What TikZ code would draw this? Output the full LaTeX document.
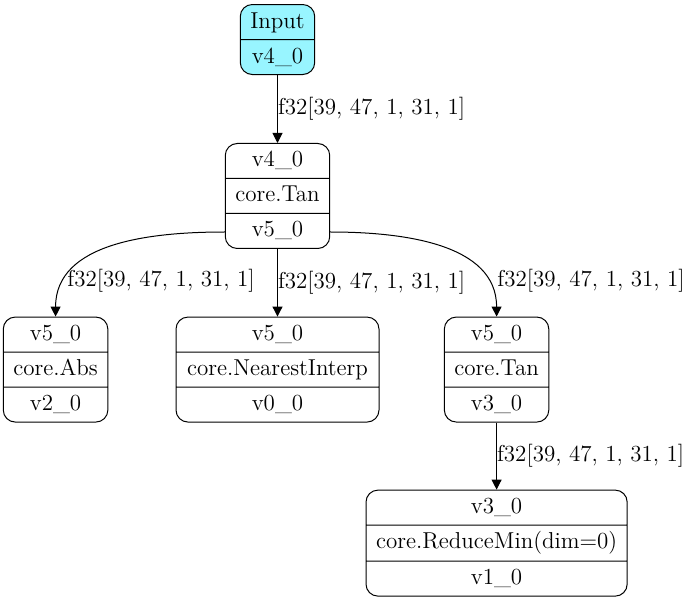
\documentclass[tikz,border=0pt]{standalone}
\usepackage{tikz}
\usetikzlibrary{shapes.multipart, arrows.meta}
\definecolor{inputcyan}{RGB}{152,245,255}
\newcommand{\fieldstrut}{\rule[-2.5pt]{0pt}{11pt}}
\tikzstyle{op}    = [rectangle split, rectangle split parts=3, rounded corners=6pt, draw=black, line width=0.5pt, minimum width=51pt, inner xsep=5pt, inner ysep=3pt]
\tikzstyle{input} = [op, rectangle split parts=2, fill=inputcyan, minimum width=36.5pt]
\tikzstyle{arrow} = [line width=0.5pt, ->, >={Triangle[length=5pt, width=5pt]}]
\tikzstyle{lbl}   = [inner sep=0pt, anchor=west]

\begin{document}
\begin{tikzpicture}[node distance=2.75cm, font=\fontsize{11.5}{13.5}\selectfont]
    \useasboundingbox (0,0) rectangle (345.5pt,-300.5pt);
    \node (in)   [input] at (138.75pt,-19.75pt)                   {\fieldstrut Input \nodepart{two}\fieldstrut v4\_0};
    \node (tan)  [op, below of=in]                                {\fieldstrut v4\_0 \nodepart{two}\fieldstrut core.Tan \nodepart{three}\fieldstrut v5\_0};
    \node (near) [op, below of=tan, yshift=-0.3cm, minimum width=101.5pt] {\fieldstrut v5\_0 \nodepart{two}\fieldstrut core.NearestInterp \nodepart{three}\fieldstrut v0\_0};
    \node (abs)  [op, left of=near, xshift=-1.15cm]               {\fieldstrut v5\_0 \nodepart{two}\fieldstrut core.Abs \nodepart{three}\fieldstrut v2\_0};
    \node (tan2) [op, right of=near, xshift=1.1cm]                {\fieldstrut v5\_0 \nodepart{two}\fieldstrut core.Tan \nodepart{three}\fieldstrut v3\_0};
    \node (rmin) [op, below of=tan2, yshift=-0.3cm, minimum width=126.5pt] {\fieldstrut v3\_0 \nodepart{two}\fieldstrut core.ReduceMin(dim=0) \nodepart{three}\fieldstrut v1\_0};

    \node (labs)  [lbl] at ([xshift=5.75pt, yshift=18pt]abs.north) {f32[39, 47, 1, 31, 1]};
    \node (ltan2) [lbl] at ([xshift=0.25pt, yshift=18pt]tan2.north) {f32[39, 47, 1, 31, 1]};

    \draw [arrow] (in) -- node[lbl] {f32[39, 47, 1, 31, 1]} (tan);
    \draw [arrow] (tan) -- node[lbl] {f32[39, 47, 1, 31, 1]} (near);
    \draw [arrow] ([yshift=8.5pt]tan.south west) to[out=180, in=90] (abs.north);
    \draw [arrow] ([yshift=8.5pt]tan.south east) to[out=0, in=90] (tan2.north);
    \draw [arrow] (tan2) -- node[lbl] {f32[39, 47, 1, 31, 1]} (rmin);
\end{tikzpicture}
\end{document}
